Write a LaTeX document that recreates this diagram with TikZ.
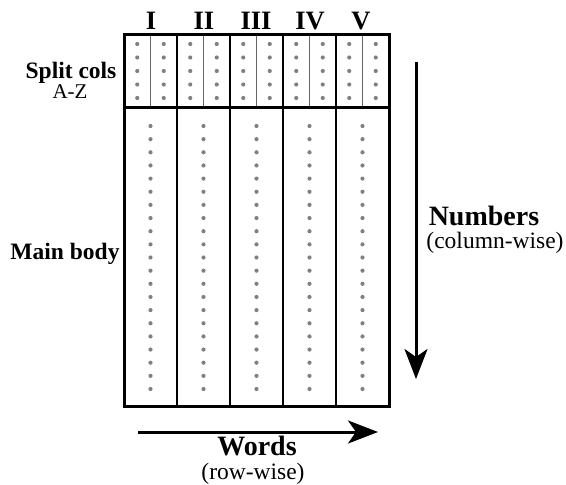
\documentclass[tikz,border=0pt]{standalone}
\usepackage{fontspec}
\setmainfont{Liberation Serif}
\usetikzlibrary{arrows.meta}
\begin{document}
\begin{tikzpicture}[x=1pt,y=-1pt,
  outer/.style={line width=3pt},
  colsep/.style={line width=1.8pt},
  halfsep/.style={line width=0.8pt, gray!80!black},
  dotstyle/.style={fill=gray, draw=none},
  txt/.style={inner sep=0pt, anchor=base},
  hdr/.style={txt, font=\fontsize{26.5}{26.5}\selectfont\bfseries},
  lbl/.style={txt, font=\fontsize{23.5}{23.5}\selectfont\bfseries},
  sub/.style={txt, font=\fontsize{21}{21}\selectfont},
  big/.style={txt, font=\fontsize{28}{28}\selectfont\bfseries},
  bigsub/.style={txt, font=\fontsize{23.5}{23.5}\selectfont},
  bigarrow/.style={line width=3pt, -{Stealth[length=30pt,width=23pt,inset=8pt]}}
]
\useasboundingbox (0,0) rectangle (566,485);
% grid
\foreach \i in {0,...,4}{
  \pgfmathsetmacro{\xl}{124+53*\i}
  \pgfmathsetmacro{\xm}{\xl+26.5}
  \draw[halfsep] (\xm,34) -- (\xm,107);
  % split dots
  \foreach \j in {0,...,4}{
    \fill[dotstyle] (\xl+13.25,44+13.5*\j) circle (2.1);
    \fill[dotstyle] (\xl+39.75,44+13.5*\j) circle (2.1);
  }
  % main dots
  \foreach \j in {0,...,20}{
    \fill[dotstyle] (\xm,126+13.15*\j) circle (2.1);
  }
}
\foreach \i in {1,...,4}{
  \pgfmathsetmacro{\xs}{124+53*\i}
  \draw[colsep] (\xs,34) -- (\xs,406);
}
\draw[outer] (124,107) -- (389,107);
\node[draw, outer, minimum width=265pt, minimum height=372pt, inner sep=0pt] (box) at (256.5,220) {};
% headers
\node[hdr] (h1) at (151,29) {I};
\node[hdr] (h2) at (204,29) {II};
\node[hdr] (h3) at (256,29) {III};
\node[hdr] (h4) at (310,29) {IV};
\node[hdr] (h5) at (361,29) {V};
% left labels
\node[lbl] (split) at (71,78) {Split cols};
\node[sub] (az) at (70,98) {A-Z};
\node[lbl] (mainb) at (65,259) {Main body};
% right arrow
\coordinate (vstart) at (416,62);
\coordinate (vend) at (416,379);
\draw[bigarrow] (vstart) -- (vend);
\node[big] (num) at (484,225) {Numbers};
\node[bigsub] (numsub) at (495,248) {(column-wise)};
% bottom arrow
\coordinate (hstart) at (138,432);
\coordinate (hend) at (378,432);
\draw[bigarrow] (hstart) -- (hend);
\node[big] (words) at (257,455) {Words};
\node[bigsub] (wordsub) at (253,479) {(row-wise)};
\end{tikzpicture}
\end{document}
